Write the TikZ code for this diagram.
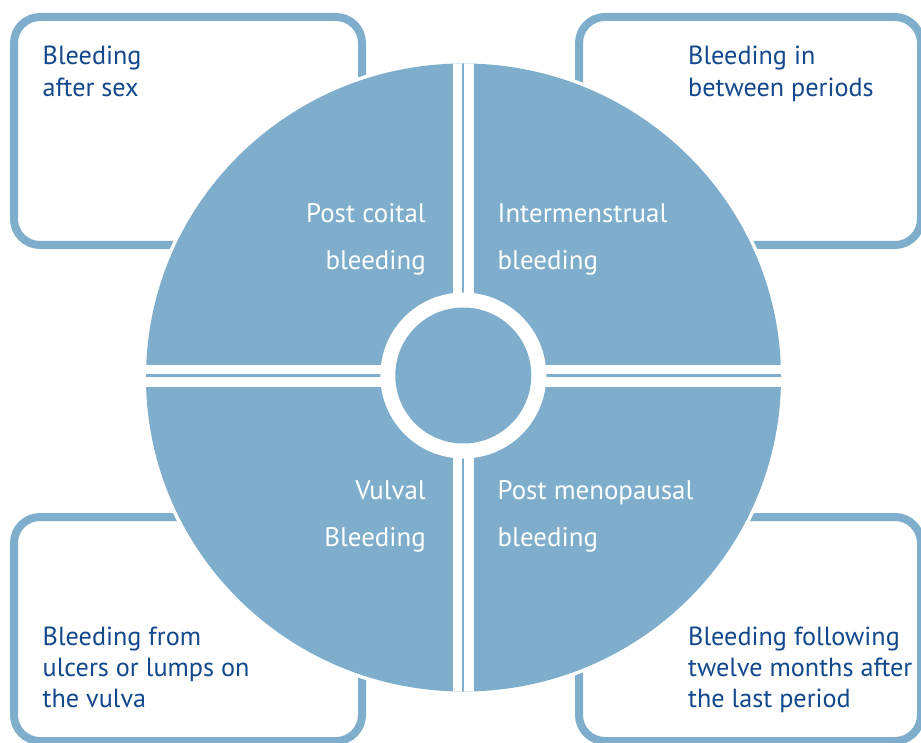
\documentclass[tikz,border=0pt]{standalone}
\usepackage{fontspec}
\setmainfont{PT Sans}
\definecolor{qblue}{RGB}{126,174,204}
\definecolor{tblue}{RGB}{18,72,140}
\tikzset{
  cornerbox/.style={draw=qblue, line width=8pt, rounded corners=26pt, fill=white},
  boxtext/.style={anchor=base west, inner sep=0pt, text=tblue, font=\fontsize{26.2}{31}\selectfont},
  quadleft/.style={anchor=base east, inner sep=0pt, text=white, font=\fontsize{26.9}{31}\selectfont},
  quadright/.style={anchor=base west, inner sep=0pt, text=white, font=\fontsize{26.9}{31}\selectfont}
}
\begin{document}
\begin{tikzpicture}[x=1pt,y=-1pt]
\clip (0,0) rectangle (921,743);
\fill[white] (0,0) rectangle (921,743);
% corner boxes
\draw[cornerbox] (14,17) rectangle (362,245);
\draw[cornerbox] (579,17) rectangle (921,245);
\draw[cornerbox] (14,517) rectangle (362,741);
\draw[cornerbox] (579,517) rectangle (921,741);
% box texts
\node[boxtext] (tla) at (42.5,65) {Bleeding};
\node[boxtext] (tlb) at (42.5,96.7) {after sex};
\node[boxtext] (tra) at (688,65) {Bleeding in};
\node[boxtext] (trb) at (688,96.7) {between periods};
\node[boxtext] (bla) at (42.5,645) {Bleeding from};
\node[boxtext] (blb) at (42.5,676) {ulcers or lumps on};
\node[boxtext] (blc) at (42.5,707) {the vulva};
\node[boxtext] (bra) at (688,645) {Bleeding following};
\node[boxtext] (brb) at (688,676) {twelve months after};
\node[boxtext] (brc) at (688,707) {the last period};
% big circle with white halo
\fill[white] (463.5,377.5) ellipse [x radius=321, y radius=317.5];
\fill[qblue] (463.5,377.5) ellipse [x radius=317.5, y radius=314];
\begin{scope}
  \clip (463.5,377.5) ellipse [x radius=317.5, y radius=314];
  \fill[white] (452.8,0) rectangle (474,743);
  \fill[white] (0,365.2) rectangle (921,387);
  \fill[qblue] (461.8,0) rectangle (464.4,743);
  \fill[qblue] (0,374) rectangle (921,376.6);
\end{scope}
% centre ring
\fill[white] (463.3,375.5) circle [radius=83];
\fill[qblue] (463.3,375.5) circle [radius=68];
% quadrant labels
\node[quadleft] (pc1) at (426,222.7) {Post coital};
\node[quadleft] (pc2) at (426,270) {bleeding};
\node[quadright] (im1) at (497.5,222.7) {Intermenstrual};
\node[quadright] (im2) at (497.5,270) {bleeding};
\node[quadleft] (vb1) at (426,499.3) {Vulval};
\node[quadleft] (vb2) at (426,546) {Bleeding};
\node[quadright] (pm1) at (497.5,499.3) {Post menopausal};
\node[quadright] (pm2) at (497.5,546) {bleeding};
\end{tikzpicture}
\end{document}
